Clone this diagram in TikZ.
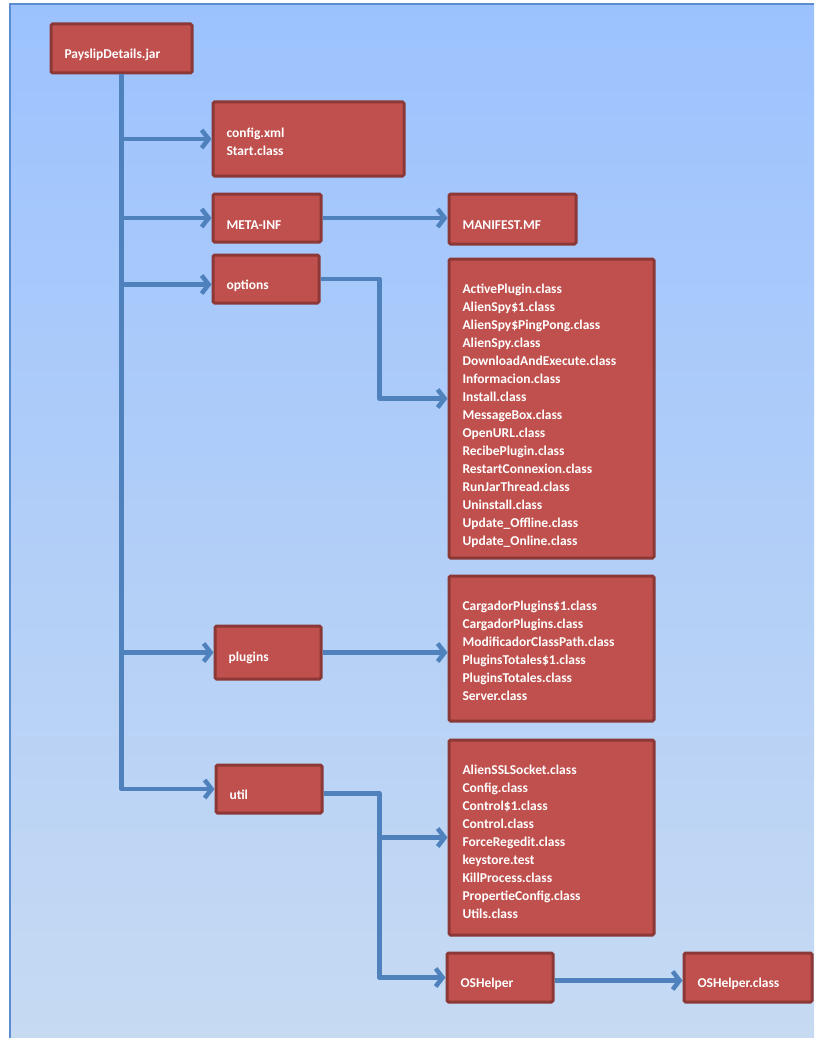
\documentclass[tikz,border=0pt]{standalone}
\usepackage{fontspec}
\setmainfont{Carlito}
\usetikzlibrary{arrows.meta,calc}
\definecolor{boxfill}{HTML}{C0504D}
\definecolor{boxedge}{HTML}{8C3836}
\definecolor{linkblue}{HTML}{4F81BD}
\definecolor{bgtop}{HTML}{9CC2FE}
\definecolor{bgbot}{HTML}{C6DAF2}
\definecolor{framecol}{HTML}{5B8DD0}
\tikzstyle{filebox}=[draw=boxedge,fill=boxfill,line width=3pt,rounded corners=1.5pt,anchor=north west,inner xsep=13.5pt,inner ysep=0pt,align=left,text=white,font=\fontsize{13.5}{18}\selectfont\bfseries]
\tikzstyle{link}=[linkblue,line width=4.5pt,line join=round,-{Straight Barb[length=7pt,width=18pt]}]
% \filenode[text height]{name}{x}{y}{width}{height}{text}
\newcommand{\filenode}[7][22pt]{
\pgfmathsetmacro{\tw}{#5-27}
\node[filebox,text height=#1,text width=\tw pt,minimum width=#5pt,minimum height=#6pt] (#2) at (#3,#4) {#7};
}

\begin{document}
\begin{tikzpicture}[x=1pt,y=-1pt]
	\useasboundingbox (0,0) rectangle (814,1038);
	\shade[top color=bgtop,bottom color=bgbot] (10,4) rectangle (814,1038);
	\draw[framecol,line width=1.5pt] (814,4) -- (10,4) -- (10,1038);

	\filenode{jar}{49.5}{22.5}{141}{49}{PayslipDetails.jar}
	\filenode[15pt]{cfg}{211.5}{100.5}{191}{74}{config.xml\\Start.class}
	\filenode[23pt]{meta}{211.5}{192.5}{108}{48}{META-INF}
	\filenode[21pt]{manifest}{447.5}{192.5}{127}{50}{MANIFEST.MF}
	\filenode[23pt]{opts}{211.5}{253.5}{106}{48}{options}
	\filenode[25pt]{optlist}{447.5}{257.5}{205}{299}{ActivePlugin.class\\AlienSpy\$1.class\\AlienSpy\$PingPong.class\\AlienSpy.class\\DownloadAndExecute.class\\Informacion.class\\Install.class\\MessageBox.class\\OpenURL.class\\RecibePlugin.class\\RestartConnexion.class\\RunJarThread.class\\Uninstall.class\\Update\_Offline.class\\Update\_Online.class}
	\filenode[20pt]{plug}{213.5}{624.5}{106}{53}{plugins}
	\filenode[14pt]{pluglist}{447.5}{574.5}{205}{145}{CargadorPlugins\$1.class\\CargadorPlugins.class\\ModificadorClassPath.class\\PluginsTotales\$1.class\\PluginsTotales.class\\Server.class}
	\filenode[21pt]{util}{214.5}{763.5}{106}{48}{util}
	\filenode[18pt]{utillist}{447.5}{738.5}{205}{195}{AlienSSLSocket.class\\Config.class\\Control\$1.class\\Control.class\\ForceRegedit.class\\keystore.test\\KillProcess.class\\PropertieConfig.class\\Utils.class}
	\filenode{oshelper}{445.5}{951.5}{106}{49}{OSHelper}
	\filenode{osclass}{682.5}{951.5}{128}{49}{OSHelper.class}

	\coordinate (optsin) at ([yshift=-5.5pt]opts.west);
	\coordinate (utilout) at ([yshift=-4.5pt]util.east);
	\coordinate (osout) at ([yshift=-3pt]oshelper.east);
	\coordinate (optlistin) at ([yshift=10pt]optlist.west);

	% trunk and branches
	\draw[link] (jar.south) |- (util.west);
	\draw[link] (jar.south |- cfg.west) -- (cfg.west);
	\draw[link] (jar.south |- meta.west) -- (meta.west);
	\draw[link] (jar.south |- optsin) -- (optsin);
	\draw[link] (jar.south |- plug.west) -- (plug.west);
	% sub folders
	\draw[link] (meta.east) -- (meta.east -| manifest.west); %META-INF
	\draw[link] (opts.east) -- ++(59,0) |- (optlistin); %options
	\draw[link] (plug.east) -- (plug.east -| pluglist.west); %plugins
	\draw[link] (utilout) -- ++(56,0) coordinate (ubend) |- (oshelper.west); %util
	\draw[link] (ubend |- utillist.west) -- (utillist.west);
	\draw[link] (osout) -- (osout -| osclass.west); %OSHelper
\end{tikzpicture}
\end{document}
